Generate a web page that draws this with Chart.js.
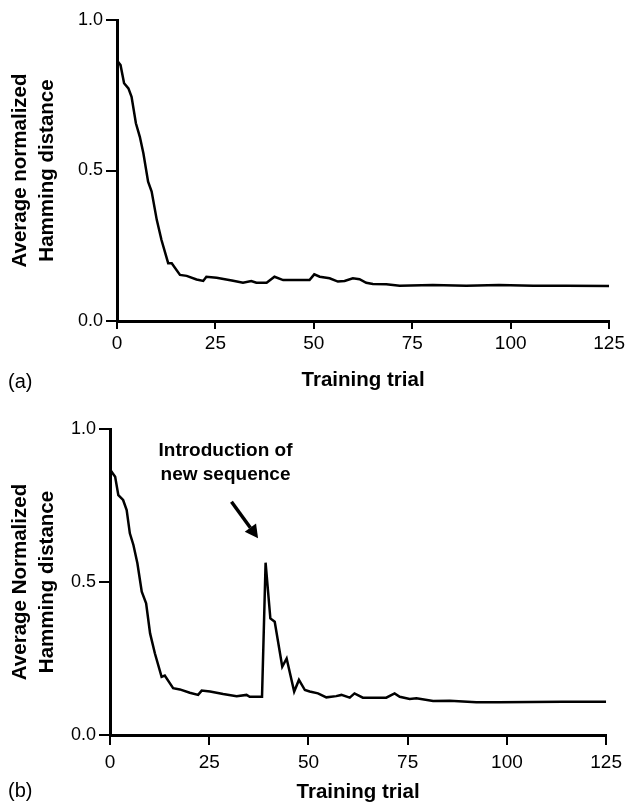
<!DOCTYPE html>
<html lang="en">
<head>
    <meta charset="UTF-8">
    <title>Average normalized Hamming distance</title>
    <script src="https://cdn.jsdelivr.net/npm/chart.js"></script>
    <style>
        body { margin: 0; background: #fff; }
        canvas { position: absolute; left: 0; }
        .tag { position: absolute; left: 8px; font: 20px "Liberation Sans", Arial, sans-serif; line-height: 20px; color: #000; }
    </style>
</head>
<body>
    <canvas id="chartA" width="628" height="400" style="top:0"></canvas>
    <div class="tag" style="top:371px">(a)</div>
    <canvas id="chartB" width="628" height="404" style="top:404px"></canvas>
    <div class="tag" style="top:780px">(b)</div>

    <script>
        // panel (a)
        const trialsA = [0, 0.3, 0.9, 1.8, 2.9, 3.7, 4.8, 5.8, 6.7, 7.9, 8.8, 10.1, 11.3, 13.0, 13.9, 16, 17.7, 20.2, 21.9, 22.7,
            25.3, 29.5, 32, 34.1, 35.4, 38, 40, 42.2, 46.4, 48.9, 50.1, 51.5, 54, 56.1, 57.8, 59.9, 61.6, 63.3, 65, 68.4,
            71.8, 80.2, 88.7, 97, 105.7, 114, 125];
        const distA = [0.87, 0.86, 0.85, 0.79, 0.773, 0.745, 0.657, 0.612, 0.557, 0.463, 0.43, 0.336, 0.269, 0.192, 0.192, 0.153, 0.15, 0.138, 0.133, 0.147,
            0.144, 0.134, 0.127, 0.133, 0.127, 0.127, 0.147, 0.136, 0.136, 0.136, 0.155, 0.147, 0.142, 0.131, 0.133, 0.142, 0.139, 0.127, 0.123, 0.122,
            0.117, 0.12, 0.117, 0.12, 0.117, 0.117, 0.116];

        // panel (b), new sequence introduced around trial 38
        const trialsB = [0, 0.4, 1.3, 2.1, 3.3, 4.2, 5.0, 5.9, 6.9, 8.0, 9.1, 10.1, 11.3, 13.0, 13.8, 15.9, 17.6, 20.1, 22.2, 23.1,
            25.2, 28.5, 31.9, 34.4, 35.2, 38.3, 39.2, 40.4, 41.5, 43.4, 44.5, 46.4, 47.6, 49.1, 50.3, 52.4, 54.5, 57, 58.3, 60.4,
            61.6, 63.7, 69.6, 71.7, 73, 75.5, 77.2, 81.4, 85.6, 92.3, 98, 106, 114, 125];
        const distB = [0.87, 0.86, 0.844, 0.784, 0.768, 0.735, 0.659, 0.621, 0.561, 0.468, 0.43, 0.332, 0.267, 0.19, 0.194, 0.153, 0.149, 0.138, 0.131, 0.145,
            0.142, 0.134, 0.127, 0.131, 0.125, 0.125, 0.563, 0.381, 0.37, 0.223, 0.25, 0.142, 0.18, 0.147, 0.142, 0.136, 0.123, 0.127, 0.131, 0.122,
            0.136, 0.122, 0.122, 0.136, 0.125, 0.118, 0.12, 0.111, 0.112, 0.107, 0.107, 0.108, 0.109, 0.109];

        const xTicks = [0, 25, 50, 75, 100, 125];
        const yTicks = [0, 0.5, 1.0];

        const yTitleA = ['Average normalized', 'Hamming distance'];
        const yTitleB = ['Average Normalized', 'Hamming distance'];
        const xTitle = 'Training trial';

        const noteLines = ['Introduction of', 'new sequence'];
        const noteX = 29.1;
        const noteY = [0.93, 0.85];
        const arrowFrom = [30.6, 0.762];
        const arrowTo = [37.3, 0.643];

        Chart.defaults.font.family = '"Liberation Sans", Arial, sans-serif';
        Chart.defaults.color = '#000';

        // arrow + label pointing at the spike in (b)
        const newSeqNote = {
            id: 'newSeqNote',
            afterDatasetsDraw(chart) {
                const { ctx, scales: { x, y } } = chart;
                ctx.save();
                ctx.fillStyle = '#000';
                ctx.strokeStyle = '#000';
                ctx.font = 'bold 19px "Liberation Sans", Arial, sans-serif';
                ctx.textAlign = 'center';
                ctx.textBaseline = 'middle';
                noteLines.forEach((line, i) => {
                    ctx.fillText(line, x.getPixelForValue(noteX), y.getPixelForValue(noteY[i]));
                });

                const x0 = x.getPixelForValue(arrowFrom[0]), y0 = y.getPixelForValue(arrowFrom[1]);
                const x1 = x.getPixelForValue(arrowTo[0]), y1 = y.getPixelForValue(arrowTo[1]);
                const ang = Math.atan2(y1 - y0, x1 - x0);
                const head = 13, half = 7;
                const bx = x1 - head * Math.cos(ang), by = y1 - head * Math.sin(ang);
                ctx.lineWidth = 3.5;
                ctx.beginPath();
                ctx.moveTo(x0, y0);
                ctx.lineTo(bx, by);
                ctx.stroke();
                ctx.beginPath();
                ctx.moveTo(x1, y1);
                ctx.lineTo(bx + half * Math.sin(ang), by - half * Math.cos(ang));
                ctx.lineTo(bx - half * Math.sin(ang), by + half * Math.cos(ang));
                ctx.closePath();
                ctx.fill();
                ctx.restore();
            }
        };

        function makeChart(id, trials, dist, yTitle, box, extra) {
            const points = trials.map((t, i) => ({ x: t, y: dist[i] }));
            return new Chart(document.getElementById(id), {
                type: 'line',
                data: {
                    datasets: [{
                        data: points,
                        borderColor: '#000',
                        borderWidth: 2.5,
                        pointRadius: 0,
                        tension: 0,
                        fill: false
                    }]
                },
                options: {
                    responsive: false,
                    animation: false,
                    layout: { padding: { top: box.top, right: box.right, left: 0, bottom: 0 } },
                    plugins: { legend: { display: false }, tooltip: { enabled: false } },
                    scales: {
                        x: {
                            type: 'linear',
                            min: 0,
                            max: 125,
                            afterBuildTicks: s => { s.ticks = xTicks.map(v => ({ value: v })); },
                            afterFit: s => { s.height = box.xHeight; },
                            ticks: { color: '#000', font: { size: 19 }, padding: box.xPad, maxRotation: 0 },
                            grid: { drawOnChartArea: false, color: '#000', lineWidth: 2, tickLength: box.xTick },
                            border: { color: '#000', width: 3 },
                            title: {
                                display: true,
                                text: xTitle,
                                color: '#000',
                                font: { size: 20.5, weight: 'bold', lineHeight: 1.2 },
                                padding: { top: 0, bottom: box.titleBottom }
                            }
                        },
                        y: {
                            min: 0,
                            max: 1,
                            afterBuildTicks: s => { s.ticks = yTicks.map(v => ({ value: v })); },
                            afterFit: s => { s.width = box.yWidth; },
                            ticks: { color: '#000', font: { size: 18 }, padding: 3, callback: v => v.toFixed(1) },
                            grid: { drawOnChartArea: false, color: '#000', lineWidth: 2, tickLength: 11 },
                            border: { color: '#000', width: 3 },
                            title: {
                                display: true,
                                text: yTitle,
                                color: '#000',
                                font: { size: 20.5, weight: 'bold', lineHeight: 1.317 },
                                padding: { top: 6.5, bottom: 0 }
                            }
                        }
                    }
                },
                plugins: extra
            });
        }

        function init() {
            makeChart('chartA', trialsA, distA, yTitleA,
                { top: 20, right: 18, yWidth: 117, xHeight: 79, xTick: 8, xPad: 3, titleBottom: 7.7 }, []);
            makeChart('chartB', trialsB, distB, yTitleB,
                { top: 25, right: 21, yWidth: 110, xHeight: 73, xTick: 10, xPad: 6, titleBottom: 3.7 }, [newSeqNote]);
        }

        window.onload = init;
    </script>
</body>
</html>
